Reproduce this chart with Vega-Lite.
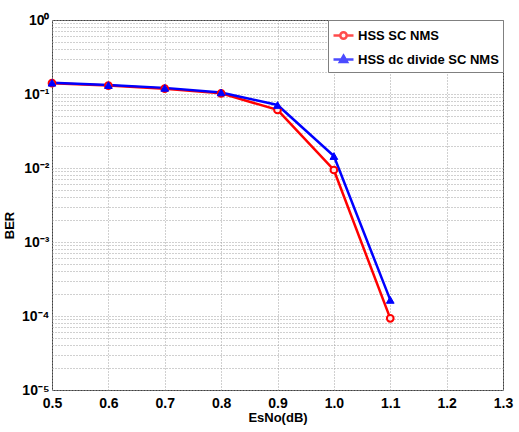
{
  "$schema": "https://vega.github.io/schema/vega-lite/v6.json",
  "width": 451,
  "height": 370,
  "autosize": {"type": "none"},
  "padding": {"left": 52, "top": 20, "right": 16, "bottom": 42},
  "background": "white",
  "config": {
    "view": {"stroke": "#404040", "strokeWidth": 1},
    "font": "Liberation Sans",
    "axis": {
      "domain": false,
      "ticks": false,
      "grid": true,
      "gridDash": [1, 2],
      "gridColor": "#a0a0a0",
      "gridWidth": 1,
      "labelFont": "Liberation Sans",
      "labelFontWeight": "bold",
      "labelFontSize": 14,
      "labelColor": "black",
      "titleFont": "Liberation Sans",
      "titleFontWeight": "bold",
      "titleFontSize": 13,
      "titleColor": "black"
    },
    "legend": {
      "labelFont": "Liberation Sans",
      "labelFontWeight": "bold",
      "labelFontSize": 13,
      "labelColor": "black"
    }
  },
  "data": {
    "values": [
      {"esno": 0.5, "ber": 0.14, "series": "HSS SC NMS"},
      {"esno": 0.6, "ber": 0.13, "series": "HSS SC NMS"},
      {"esno": 0.7, "ber": 0.118, "series": "HSS SC NMS"},
      {"esno": 0.8, "ber": 0.102, "series": "HSS SC NMS"},
      {"esno": 0.9, "ber": 0.061, "series": "HSS SC NMS"},
      {"esno": 1.0, "ber": 0.0094, "series": "HSS SC NMS"},
      {"esno": 1.1, "ber": 0.000093, "series": "HSS SC NMS"},
      {"esno": 0.5, "ber": 0.142, "series": "HSS dc divide SC NMS"},
      {"esno": 0.6, "ber": 0.132, "series": "HSS dc divide SC NMS"},
      {"esno": 0.7, "ber": 0.121, "series": "HSS dc divide SC NMS"},
      {"esno": 0.8, "ber": 0.105, "series": "HSS dc divide SC NMS"},
      {"esno": 0.9, "ber": 0.071, "series": "HSS dc divide SC NMS"},
      {"esno": 1.0, "ber": 0.0145, "series": "HSS dc divide SC NMS"},
      {"esno": 1.1, "ber": 0.000165, "series": "HSS dc divide SC NMS"}
    ]
  },
  "encoding": {
    "x": {
      "field": "esno",
      "type": "quantitative",
      "scale": {"domain": [0.5, 1.3], "nice": false, "zero": false},
      "axis": {
        "title": "EsNo(dB)",
        "values": [0.5, 0.6, 0.7, 0.8, 0.9, 1.0, 1.1, 1.2, 1.3],
        "labelPadding": 6,
        "titlePadding": 1,
        "labelFlush": false,
        "labelOverlap": false
      }
    },
    "y": {
      "field": "ber",
      "type": "quantitative",
      "scale": {"type": "log", "domain": [0.00001, 1], "nice": false},
      "axis": {
        "title": "BER",
        "values": [0.00001, 0.00002, 0.00003, 0.00004, 0.00005, 0.00006, 0.00007, 0.00008, 0.00009,
                   0.0001, 0.0002, 0.0003, 0.0004, 0.0005, 0.0006, 0.0007, 0.0008, 0.0009,
                   0.001, 0.002, 0.003, 0.004, 0.005, 0.006, 0.007, 0.008, 0.009,
                   0.01, 0.02, 0.03, 0.04, 0.05, 0.06, 0.07, 0.08, 0.09,
                   0.1, 0.2, 0.3, 0.4, 0.5, 0.6, 0.7, 0.8, 0.9, 1],
        "labelExpr": "abs(log(datum.value)/LN10 - round(log(datum.value)/LN10)) < 0.001 ? '10' + ['⁻⁵','⁻⁴','⁻³','⁻²','⁻¹','⁰'][round(log(datum.value)/LN10) + 5] : ''",
        "labelPadding": 3,
        "labelOverlap": false,
        "labelFlush": false,
        "titleX": -36,
        "titleY": 205,
        "titleBaseline": "bottom"
      }
    }
  },
  "layer": [
    {
      "mark": {"type": "line", "strokeWidth": 2.5},
      "encoding": {
        "stroke": {
          "field": "series",
          "type": "nominal",
          "scale": {"domain": ["HSS SC NMS", "HSS dc divide SC NMS"], "range": ["#ff0000", "#0000ff"]},
          "legend": {
            "title": null,
            "orient": "top-right",
            "offset": 0,
            "fillColor": "white",
            "strokeColor": "#808080",
            "padding": 4,
            "rowPadding": 4,
            "labelOffset": 3,
            "symbolSize": 400,
            "symbolStrokeWidth": 2.5,
            "symbolOpacity": 1
          }
        }
      }
    },
    {
      "transform": [{"filter": "datum.series == 'HSS SC NMS'"}],
      "mark": {"type": "point", "shape": "circle", "filled": true, "fill": "#ffe8e8", "stroke": "#ff0000", "strokeWidth": 2, "size": 45, "opacity": 1}
    },
    {
      "transform": [{"filter": "datum.series == 'HSS dc divide SC NMS'"}],
      "mark": {"type": "point", "shape": "triangle-up", "filled": true, "fill": "#0000ff", "stroke": "#0000ff", "strokeWidth": 1, "size": 60, "opacity": 1}
    },
    {
      "mark": {"type": "point", "size": 0, "strokeWidth": 2.5},
      "encoding": {
        "stroke": {
          "field": "series",
          "type": "nominal"
        },
        "fill": {
          "field": "series",
          "type": "nominal",
          "scale": {"domain": ["HSS SC NMS", "HSS dc divide SC NMS"], "range": ["#ffe8e8", "#0000ff"]}
        },
        "shape": {
          "field": "series",
          "type": "nominal",
          "scale": {
            "domain": ["HSS SC NMS", "HSS dc divide SC NMS"],
            "range": [
              "M-1,0H-0.32M0.32,0H1M0.32,0A0.32,0.32 0 1 1 -0.32,0A0.32,0.32 0 1 1 0.32,0Z",
              "M-1,0H1M0,-0.38L0.36,0.26L-0.36,0.26Z"
            ]
          }
        }
      }
    }
  ]
}
